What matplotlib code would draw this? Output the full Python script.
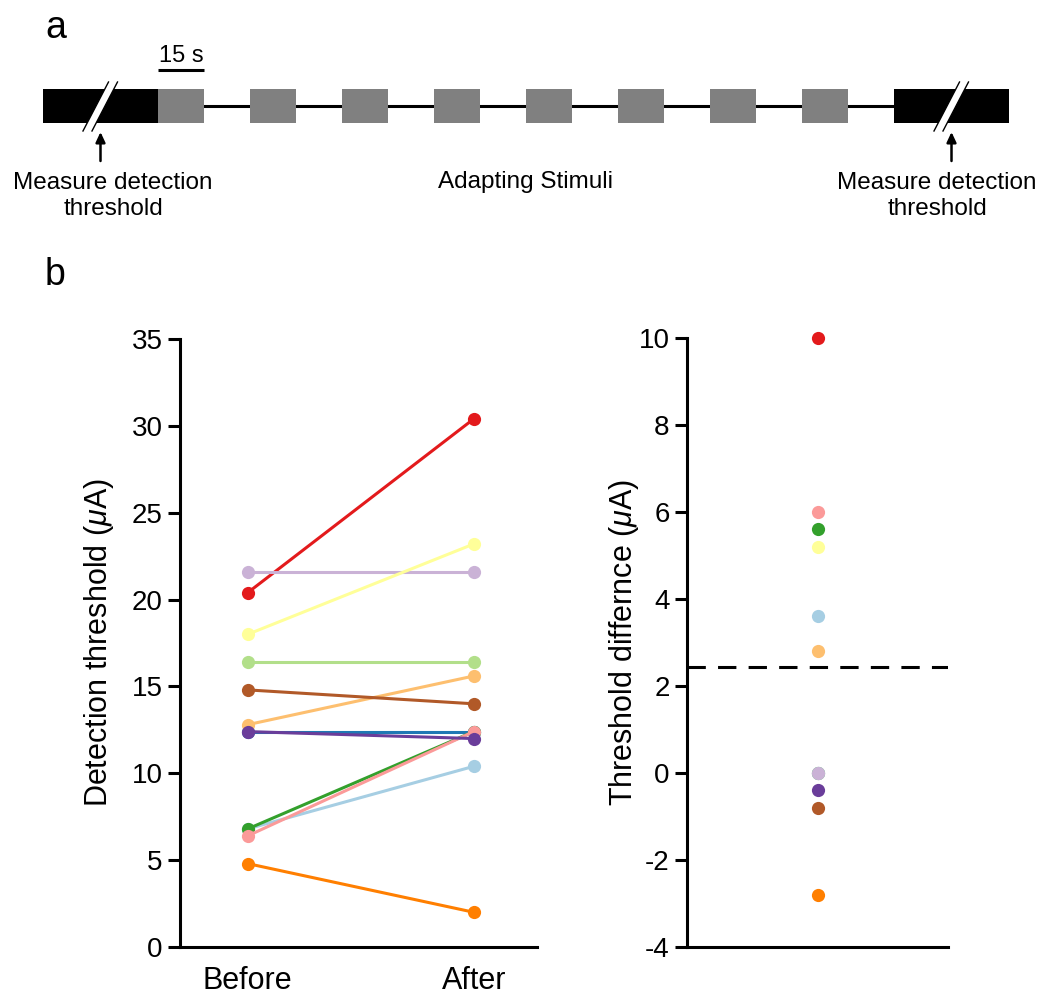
import matplotlib
matplotlib.use("Agg")
import matplotlib.pyplot as plt
from matplotlib.patches import Rectangle, Polygon
import numpy as np

plt.rcParams['font.family'] = ['Liberation Sans', 'DejaVu Sans']
plt.rcParams['mathtext.fontset'] = 'custom'
plt.rcParams['mathtext.rm'] = 'Liberation Sans'
plt.rcParams['mathtext.it'] = 'Liberation Sans:italic'
plt.rcParams['axes.unicode_minus'] = False

# ---------------- data ----------------
conditions = ["Before", "After"]
subject_colors = ["#a6cee3", "#1f78b4", "#b2df8a", "#33a02c", "#fb9a99", "#e31a1c",
                  "#fdbf6f", "#ff7f00", "#cab2d6", "#6a3d9a", "#ffff99", "#b15928"]
before = [6.8, 12.4, 16.4, 6.8, 6.4, 20.4, 12.8, 4.8, 21.6, 12.4, 18.0, 14.8]
after = [10.4, 12.4, 16.4, 12.4, 12.4, 30.4, 15.6, 2.0, 21.6, 12.0, 23.2, 14.0]
left_yticks = [0, 5, 10, 15, 20, 25, 30, 35]
right_yticks = [-4, -2, 0, 2, 4, 6, 8, 10]

# schematic timing (seconds)
stim_onsets = [0, 30, 60, 90, 120, 150, 180, 210]
stim_dur = 15
pre_block = (-37.5, 0)
post_block = (240, 277.5)

diff = np.round(np.array(after) - np.array(before), 2)
mean_diff = diff.mean()

W, H = 1050, 1007
fig = plt.figure(figsize=(W / 100, H / 100), dpi=100)

# ---------------- panel a (schematic) ----------------
s = 3.0667  # px per second
t0 = 158    # px of t=0
axa = fig.add_axes([0, (H - 240) / H, 1, 240 / H])
axa.set_xlim(-t0 / s, (W - t0) / s)
axa.set_ylim(240, 0)
axa.axis('off')

ytop, ybot = 89, 123
ymid = (ytop + ybot) / 2
axa.plot([pre_block[1], post_block[0]], [ymid, ymid], color='black', lw=2.2, zorder=1)
for blk in (pre_block, post_block):
    axa.add_patch(Rectangle((blk[0], ytop), blk[1] - blk[0], ybot - ytop,
                            facecolor='black', edgecolor='none', zorder=2))
    c = (blk[0] + blk[1]) / 2
    # break slash
    dy_top, dy_bot = 82, 131
    slope = 25.5 / 49 / s  # seconds per px of height
    hw = 4.5 / s
    def xat(y, off):
        return c + (ymid - y) * slope + off
    poly = [(xat(dy_bot, -hw), dy_bot), (xat(dy_top, -hw), dy_top),
            (xat(dy_top, hw), dy_top), (xat(dy_bot, hw), dy_bot)]
    axa.add_patch(Polygon(poly, closed=True, facecolor='white', edgecolor='none', zorder=3))
    for off in (-hw, hw):
        axa.plot([xat(dy_bot, off), xat(dy_top, off)], [dy_bot, dy_top],
                 color='black', lw=1.0, zorder=4)
    axa.annotate('', xy=(c, 132), xytext=(c, 161),
                 arrowprops=dict(arrowstyle='-|>,head_length=0.6,head_width=0.28',
                                 color='black', lw=1.8, shrinkA=0, shrinkB=0))
for on in stim_onsets:
    axa.add_patch(Rectangle((on, ytop), stim_dur, ybot - ytop,
                            facecolor='#808080', edgecolor='none', zorder=2))
# scale bar
axa.plot([0, 15], [70, 70], color='black', lw=2.2, solid_capstyle='butt')
axa.text(7.5, 62, '15 s', ha='center', va='baseline', fontsize=17)

txt_kw = dict(ha='center', va='center', fontsize=17.5, linespacing=1.2)
axa.text((113 - t0) / s, 196, 'Measure detection\nthreshold', **txt_kw)
axa.text((937 - t0) / s, 196, 'Measure detection\nthreshold', **txt_kw)
axa.text((525 - t0) / s, 182, 'Adapting Stimuli', **txt_kw)

fig.text(45 / W, 1 - 28 / H, 'a', fontsize=27, ha='left', va='center')
fig.text(45 / W, 1 - 275 / H, 'b', fontsize=27, ha='left', va='center')

# ---------------- panel b left ----------------
def style(ax):
    for sp in ('top', 'right'):
        ax.spines[sp].set_visible(False)
    for sp in ('left', 'bottom'):
        ax.spines[sp].set_linewidth(2.2)
    ax.tick_params(axis='y', length=8.5, width=2.2, labelsize=20, pad=4)

ax1 = fig.add_axes([180 / W, 60 / H, 357 / W, 608 / H])
style(ax1)
xpos = [0, 1]
for b, a, col in zip(before, after, subject_colors):
    ax1.plot(xpos, [b, a], color=col, lw=2.2, marker='o', markersize=9.5,
             markeredgewidth=0, clip_on=False)
ax1.set_xlim(-0.30, 1.28)
ax1.set_ylim(0, 35)
ax1.set_yticks(left_yticks)
ax1.set_xticks(xpos)
ax1.set_xticklabels(conditions)
ax1.tick_params(axis='x', length=0, labelsize=22, pad=14)
ax1.set_ylabel(r'Detection threshold ($\mathit{\mu}$A)', fontsize=22)
ax1.yaxis.set_label_coords(-0.18, 0.5)

# ---------------- panel b right ----------------
ax2 = fig.add_axes([687 / W, 60 / H, 261 / W, 609 / H])
style(ax2)
for d, col in zip(diff, subject_colors):
    ax2.plot([0], [d], linestyle='none', marker='o', color=col, markersize=9.5,
             markeredgewidth=0, clip_on=False)
ax2.axhline(mean_diff, color='black', lw=2.2, dashes=(6, 4))
ax2.set_xlim(-1, 1)
ax2.set_ylim(-4, 10)
ax2.set_yticks(right_yticks)
ax2.set_xticks([])
ax2.set_ylabel(r'Threshold differnce ($\mathit{\mu}$A)', fontsize=22)
ax2.yaxis.set_label_coords(-0.175, 0.5)

fig.savefig('out.png', dpi=100)
